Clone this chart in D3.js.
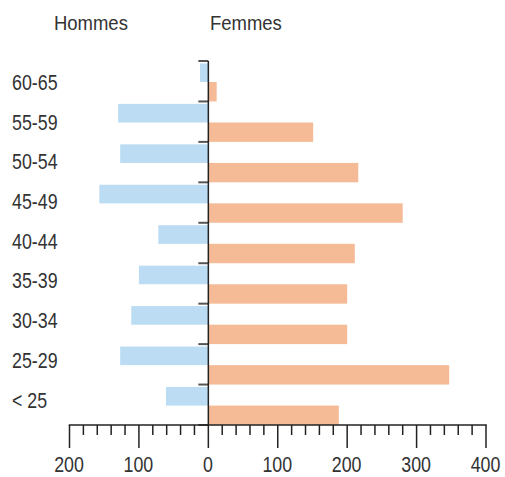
<!DOCTYPE html>
<html><head><meta charset="utf-8">
<script src="https://cdn.jsdelivr.net/npm/d3@7"></script>
<style>body{margin:0;background:#fff}svg{display:block}</style>
</head><body>
<script>
const categories = ["< 25","25-29","30-34","35-39","40-44","45-49","50-54","55-59","60-65"];
const hommes = [61,127,111,100,72,157,127,130,12];
const femmes = [188,347,200,200,211,280,216,151,12];
const xTicks = [-200,-100,0,100,200,300,400];
const xTickLabels = ["200","100","0","100","200","300","400"];
const seriesNames = ["Hommes","Femmes"];

const W=505,H=477;
const font = "'Liberation Sans',Arial,sans-serif";
const svg = d3.select("body").append("svg").attr("width",W).attr("height",H);
const x = d3.scaleLinear().domain([-200,400]).range([69.5,486]);
const y = d3.scaleBand().domain(categories.slice().reverse()).range([61,425]).paddingInner(0).paddingOuter(0);
const yLabel = d3.scalePoint().domain(categories.slice().reverse()).range([90,407.5]);
const bw = y.bandwidth();

function label(g, tx, ty, txt, anchor, size, sx){
  return g.append("text")
    .attr("transform",`translate(${tx},${ty}) scale(${sx},1)`)
    .attr("text-anchor",anchor||"start")
    .attr("font-family",font).attr("font-size",size).attr("fill","#333")
    .text(txt);
}

// bars
svg.append("g").selectAll("rect").data(categories).join("rect")
  .attr("x",(d,i)=>x(-hommes[i])).attr("width",(d,i)=>x(0)-x(-hommes[i]))
  .attr("y",d=>y(d)+bw*0.06).attr("height",bw*0.46)
  .attr("fill","#bbdcf3");
svg.append("g").selectAll("rect").data(categories).join("rect")
  .attr("x",x(0)).attr("width",(d,i)=>x(femmes[i])-x(0))
  .attr("y",d=>y(d)+bw*0.52).attr("height",bw*0.48)
  .attr("fill","#f5bb97");

// category boundary ticks
const bounds = categories.map(c=>y(c)).concat([y.range()[1]]);
svg.append("g").selectAll("line").data(bounds).join("line")
  .attr("x1",x(0)-10).attr("x2",x(0)).attr("y1",d=>d).attr("y2",d=>d)
  .attr("stroke","#555").attr("stroke-width",2);

// vertical axis line
svg.append("line").attr("x1",x(0)).attr("x2",x(0)).attr("y1",y.range()[0]).attr("y2",y.range()[1]+1)
  .attr("stroke","#222").attr("stroke-width",1.5);

// category labels
const gl = svg.append("g");
categories.forEach(c=>label(gl,12,yLabel(c),c,"start",22,0.81));

// x axis
const axisY = 425;
const minor = d3.range(-200,401,20);
svg.append("g").selectAll("line").data(minor).join("line")
  .attr("x1",d=>x(d)).attr("x2",d=>x(d)).attr("y1",axisY)
  .attr("y2",d=>xTicks.includes(d)?axisY+23:axisY+10)
  .attr("stroke","#222").attr("stroke-width",1.5);
svg.append("line").attr("x1",x(-200)-0.75).attr("x2",x(400)+0.75).attr("y1",axisY).attr("y2",axisY)
  .attr("stroke","#222").attr("stroke-width",1.5);
const gx = svg.append("g");
xTicks.forEach((t,i)=>label(gx,x(t)-0.5,472,xTickLabels[i],"middle",22,0.81));

// series titles
label(svg,54,30,seriesNames[0],"start",21,0.88);
label(svg,210,30,seriesNames[1],"start",21,0.88);
</script>
</body></html>
